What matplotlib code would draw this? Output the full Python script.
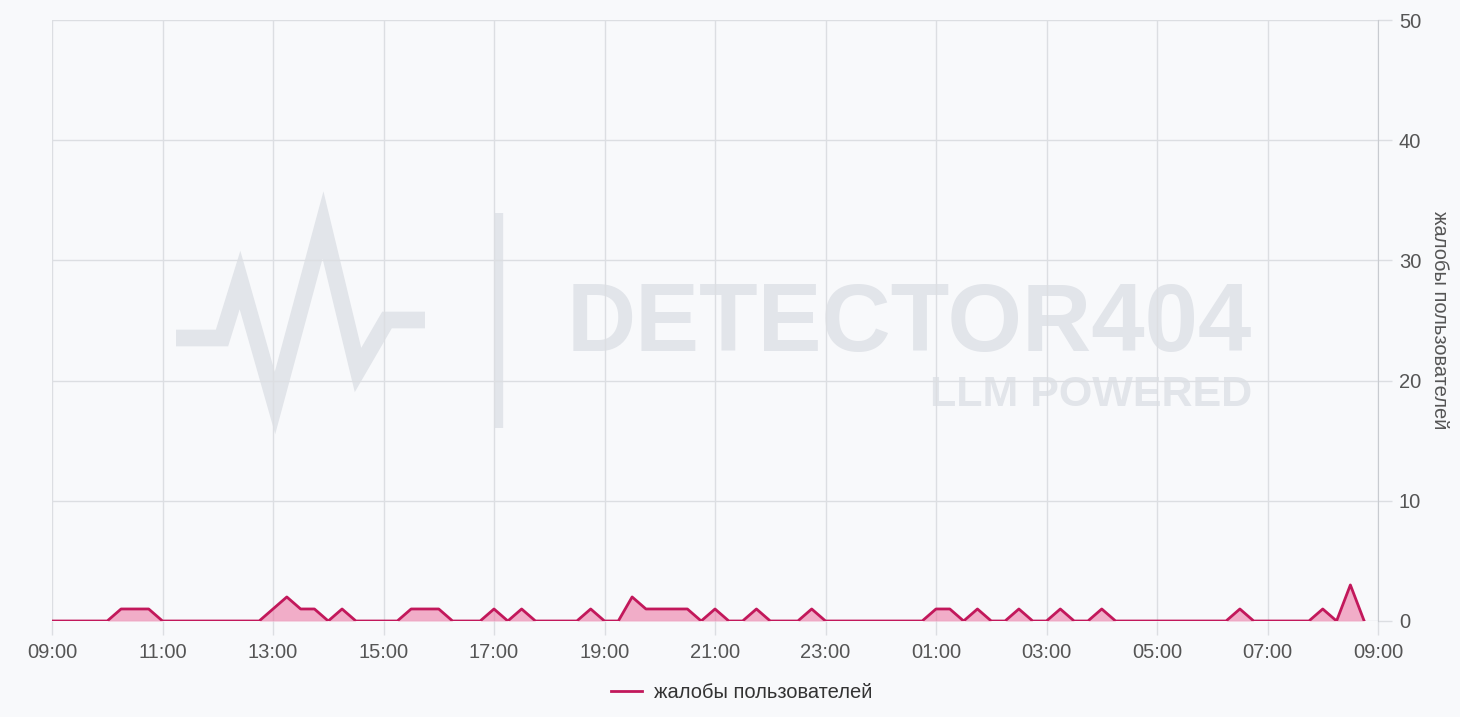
import matplotlib
matplotlib.use('Agg')
import matplotlib.pyplot as plt
import numpy as np

# данные: жалобы каждые 15 минут, с 09:00 до 08:45 следующего дня
start_hour = 9
step_min = 15
complaints = [
    0, 0, 0, 0,   # 09
    0, 1, 1, 1,   # 10
    0, 0, 0, 0,   # 11
    0, 0, 0, 0,   # 12
    1, 2, 1, 1,   # 13
    0, 1, 0, 0,   # 14
    0, 0, 1, 1,   # 15
    1, 0, 0, 0,   # 16
    1, 0, 1, 0,   # 17
    0, 0, 0, 1,   # 18
    0, 0, 2, 1,   # 19
    1, 1, 1, 0,   # 20
    1, 0, 0, 1,   # 21
    0, 0, 0, 1,   # 22
    0, 0, 0, 0,   # 23
    0, 0, 0, 0,   # 00
    1, 1, 0, 1,   # 01
    0, 0, 1, 0,   # 02
    0, 1, 0, 0,   # 03
    1, 0, 0, 0,   # 04
    0, 0, 0, 0,   # 05
    0, 0, 1, 0,   # 06
    0, 0, 0, 0,   # 07
    1, 0, 3, 0,   # 08
]
tick_labels = ['09:00', '11:00', '13:00', '15:00', '17:00', '19:00', '21:00',
               '23:00', '01:00', '03:00', '05:00', '07:00', '09:00']
series_name = 'жалобы пользователей'

hours = np.arange(len(complaints)) * step_min / 60.0

bg = '#f8f9fb'
line_c = '#c2185b'
fill_c = '#ec6f9e'
grid_c = '#dcdee2'
text_c = '#555555'
fs = 14.5

plt.rcParams['font.family'] = ['Liberation Sans', 'DejaVu Sans']

fig = plt.figure(figsize=(14.6, 7.17), dpi=100, facecolor=bg)
ax = fig.add_axes([52/1460, 1-621/717, (1378-52)/1460, (621-20)/717])
ax.set_facecolor(bg)

ax.plot(hours, complaints, color=line_c, lw=2.0, solid_joinstyle='round', zorder=3, label=series_name)
ax.fill_between(hours, complaints, 0, color=fill_c, alpha=0.55, lw=0, zorder=2)

ax.set_xlim(0, 24)
ax.set_ylim(0, 50)
ax.set_xticks(np.arange(0, 25, 2))
ax.set_xticklabels(tick_labels)
ax.set_yticks(np.arange(0, 51, 10))
ax.yaxis.tick_right()
ax.yaxis.set_label_position('right')
ax.set_ylabel(series_name, rotation=270, labelpad=20, fontsize=fs, color=text_c)
ax.tick_params(axis='both', colors=grid_c, labelcolor=text_c, labelsize=fs, length=10, width=1)
ax.tick_params(axis='x', pad=6)
ax.tick_params(axis='y', pad=5)
ax.grid(True, color=grid_c, lw=1)
ax.set_axisbelow(True)
for s in ['top', 'left', 'bottom']:
    ax.spines[s].set_visible(False)
ax.spines['right'].set_color('#c8cbd0')

# водяной знак
wm = '#e2e5ea'
px = lambda x: x / 1460
py = lambda y: 1 - y / 717
pulse_x = [176, 222, 240, 275, 323, 358, 387, 425]
pulse_y = [338, 338, 280, 403, 225, 370, 320, 320]
ax.plot([px(v) for v in pulse_x], [py(v) for v in pulse_y], transform=fig.transFigure,
        color=wm, lw=12, solid_joinstyle='miter', solid_capstyle='butt', zorder=0.1, clip_on=False)
ax.plot([px(499), px(499)], [py(213), py(428)], transform=fig.transFigure,
        color=wm, lw=6, solid_capstyle='butt', zorder=0.1, clip_on=False)
ax.text(px(1252), py(326), 'DETECTOR404', transform=fig.transFigure, ha='right', va='center',
        fontsize=69, fontweight='bold', color=wm, zorder=0.1)
ax.text(px(1252), py(395), 'LLM POWERED', transform=fig.transFigure, ha='right', va='center',
        fontsize=31, fontweight='bold', color=wm, zorder=0.1)

leg = fig.legend(loc='center', bbox_to_anchor=(0.508, 1-693/717), frameon=False,
                 fontsize=fs, handlelength=1.5, handletextpad=0.6)
for t in leg.get_texts():
    t.set_color('#333333')

fig.savefig('out.png', dpi=100, facecolor=bg)
plt.close()
